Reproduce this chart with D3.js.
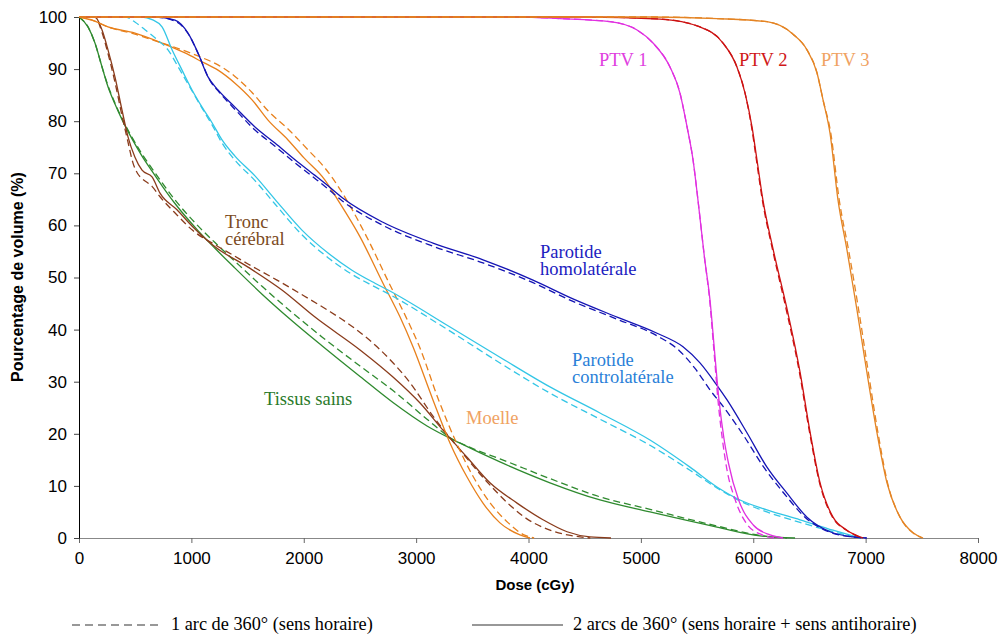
<!DOCTYPE html>
<html><head><meta charset="utf-8">
<script src="https://cdn.jsdelivr.net/npm/d3@7"></script>
<style>body{margin:0;background:#fff}svg{display:block}</style>
</head><body><svg id="c" width="1002" height="634"></svg>
<script>
// ---- data: [dose cGy, volume %] ----
const xTicks = [0,1000,2000,3000,4000,5000,6000,7000,8000];
const yTicks = [0,10,20,30,40,50,60,70,80,90,100];

const ptv1Solid = [[0,100],[3900,100],[4280,99.7],[4725,99.1],[4966,97.5],[5108,95],[5259,90.4],[5348,85.4],[5411,78.9],[5464,72.6],[5510,64.5],[5565,54],[5615,45.7],[5655,36],[5695,26.5],[5740,19],[5780,14.3],[5870,7.3],[6000,2.5],[6149,0.6],[6265,0]];
const ptv1Dash  = [[0,100],[3900,100],[4280,99.7],[4725,99.1],[4966,97.5],[5108,95],[5259,90.4],[5348,85.4],[5411,78.9],[5464,72.6],[5510,64.5],[5565,54],[5612,45.7],[5650,36],[5688,26],[5725,19],[5762,13.6],[5840,7.3],[5950,2.5],[6080,0.6],[6200,0]];
const ptv2Solid = [[0,100],[4500,100],[5170,99.6],[5526,98.1],[5731,95],[5855,90.4],[5927,85.4],[5989,78.9],[6033,72.6],[6085,65],[6176,55.5],[6300,44],[6416,31.9],[6505,20.4],[6594,10.6],[6710,4.0],[6834,1.5],[6977,0]];
const ptv2Dash  = [[0,100],[4500,100],[5170,99.6],[5526,98.1],[5731,95],[5855,90.4],[5927,85.4],[5985,78.9],[6028,72.6],[6080,65],[6170,55.5],[6292,44],[6410,31.9],[6500,20.4],[6590,10.6],[6705,4.0],[6830,1.5],[6970,0]];
const ptv3Solid = [[0,100],[5081,100],[5677,99.7],[6122,99.1],[6354,96.7],[6478,93.7],[6567,89.3],[6621,84.1],[6683,77.7],[6754,64.9],[6834,55.3],[6923,43.8],[7012,31.7],[7101,20.2],[7190,10.6],[7306,4.0],[7422,1.0],[7511,0]];
const ptv3Dash  = [[0,100],[5081,100],[5677,99.7],[6122,99.1],[6354,96.7],[6478,93.7],[6567,89.3],[6621,84.1],[6690,77.7],[6765,64.9],[6848,55.3],[6938,43.8],[7025,31.7],[7110,20.2],[7195,10.6],[7306,4.0],[7420,1.0],[7505,0]];

const homoSolid = [[0,100],[676,100],[854,99.4],[970,96.9],[1059,93.1],[1148,88.5],[1237,86],[1388,82.7],[1566,78.9],[1744,75.8],[1922,72.6],[2100,69.6],[2216,67.6],[2349,65.2],[2705,60.6],[3150,56.6],[3595,53.4],[4040,49.5],[4396,45.9],[4788,42.4],[5144,39.3],[5375,36.7],[5526,33.6],[5677,29.3],[5767,26.5],[5944,20.2],[6122,13.6],[6300,8.6],[6478,4.0],[6683,1.2],[6888,0.2],[7012,0]];
const homoDash  = [[0,100],[676,100],[854,99.2],[980,96.5],[1070,92.5],[1160,88],[1250,85.5],[1400,82],[1566,78.3],[1744,75.2],[1922,72],[2100,69],[2216,67],[2349,64.6],[2705,60],[3150,56],[3595,52.8],[4040,49],[4396,45.4],[4788,42],[5144,38.8],[5340,36],[5480,32.6],[5630,28],[5730,25.3],[5910,19.8],[6100,13.4],[6280,8.4],[6460,4.0],[6670,1.2],[6880,0.2],[7000,0]];

const controSolid = [[0,100],[561,100],[650,99.5],[739,98.1],[828,93.7],[917,89.8],[1006,86],[1095,82.7],[1184,79.7],[1273,76.4],[1388,73.3],[1566,69.5],[1744,65],[1984,59.1],[2216,54.7],[2429,51.4],[2634,48.9],[2750,47.6],[3302,40.5],[3746,34.7],[4191,29],[4636,24],[5081,18.8],[5437,13.6],[5677,9.8],[5882,7.3],[6122,5.4],[6416,3.5],[6710,1.5],[6950,0]];
const controDash  = [[0,100],[410,100],[500,99],[590,97.5],[703,95.5],[792,93.7],[880,90.5],[1006,85.8],[1095,82.5],[1184,79.3],[1273,75.8],[1388,72.5],[1566,68.6],[1744,64.1],[1984,58.2],[2216,53.8],[2429,50.6],[2634,48.2],[2750,46.9],[3302,39.7],[3746,33.6],[4191,27.8],[4636,22.8],[5081,17.8],[5437,13],[5677,9.6],[5882,7.1],[6122,5],[6416,3.0],[6710,1.2],[6950,0]];

const moelleSolid = [[0,100],[116,99.4],[258,98.1],[498,96.9],[739,95],[943,93.1],[1095,91.4],[1237,89.8],[1388,87.3],[1540,84.1],[1682,80.2],[1860,76.4],[2000,73],[2189,68.7],[2300,65],[2501,57.8],[2705,48.9],[2857,42.4],[2972,36.7],[3150,26.5],[3302,18.2],[3453,11.7],[3595,6.7],[3746,2.9],[3924,0.6],[4013,0]];
const moelleDash  = [[0,100],[116,99.4],[258,98.1],[498,96.7],[739,95],[943,93.5],[1095,92.2],[1237,90.8],[1388,88.6],[1540,85.5],[1682,82],[1860,78.5],[2038,74.5],[2189,71],[2350,66],[2560,57.8],[2760,48.9],[2910,42.4],[3030,36.7],[3200,26.5],[3360,18.2],[3510,11.7],[3660,6.7],[3820,2.9],[3960,0.6],[4050,0]];

const troncSolid = [[0,100],[142,100],[205,97.5],[258,93.7],[320,88.5],[383,82.1],[436,77],[498,73.1],[561,70.6],[650,69.3],[721,66.2],[872,63],[1014,59.7],[1210,55.9],[1504,52],[1806,47.6],[2100,42.4],[2501,36.1],[2794,30.9],[3035,25.9],[3239,20.7],[3453,15.5],[3657,10.6],[3898,6.7],[4129,3.5],[4343,1.2],[4547,0.2],[4734,0]];
const troncDash  = [[0,100],[142,100],[205,97],[258,93],[320,87.5],[383,81],[436,76],[480,72],[520,70],[560,69],[650,67.5],[721,65.5],[872,62],[1014,59],[1210,56.3],[1370,54.3],[1504,52.6],[1762,49.5],[2000,46.5],[2207,43.8],[2450,40.3],[2652,36.7],[2800,33.5],[2946,29.8],[3150,23.4],[3390,16.9],[3630,10.8],[3835,6.3],[3951,4.2],[4191,1.5],[4431,0.3],[4550,0]];

const tissusSolid = [[0,100],[80,98.1],[142,95],[205,90.4],[258,86.6],[320,83.3],[383,80.3],[472,76.6],[561,73.3],[650,70.4],[739,67.6],[854,64.2],[1059,59],[1210,55.6],[1388,51.8],[1629,46.8],[1895,41.7],[2162,36.9],[2501,31],[2794,26],[3097,21.5],[3391,18.2],[3746,14.6],[4191,10.6],[4636,7.3],[5081,5.0],[5677,2.1],[6060,0.4],[6372,0]];
const tissusDash  = [[0,100],[80,98.1],[142,95],[205,90.4],[258,86.8],[320,83.5],[383,80.5],[472,76.9],[561,73.7],[650,70.9],[739,68.2],[854,64.9],[1059,59.9],[1210,56.7],[1388,53.1],[1629,48.3],[1895,43.3],[2162,38.6],[2501,33],[2794,28.3],[3097,22.8],[3300,19.3],[3500,17.2],[3746,15.2],[4191,11.4],[4636,7.9],[5081,5.5],[5677,2.3],[6060,0.5],[6300,0]];

const series = [
  {name:"tissus", color:"#2f8a2f", solid:tissusSolid, dash:tissusDash},
  {name:"tronc", color:"#8a3c1c", solid:troncSolid, dash:troncDash},
  {name:"moelle", color:"#e8801c", solid:moelleSolid, dash:moelleDash},
  {name:"contro", color:"#33c6e6", solid:controSolid, dash:controDash},
  {name:"homo", color:"#1414b4", solid:homoSolid, dash:homoDash},
  {name:"ptv1", color:"#e030e0", solid:ptv1Solid, dash:ptv1Dash},
  {name:"ptv2", color:"#cc1212", solid:ptv2Solid, dash:ptv2Dash},
  {name:"ptv3", color:"#e48424", solid:ptv3Solid, dash:ptv3Dash}
];

const labels = [
  {lines:["PTV 1"], x:599, y:66, color:"#e040e0"},
  {lines:["PTV 2"], x:739, y:66, color:"#d01818"},
  {lines:["PTV 3"], x:821, y:66, color:"#f0a262"},
  {lines:["Parotide","homolatérale"], x:540, y:258, color:"#2020c0"},
  {lines:["Parotide","controlatérale"], x:572, y:366, color:"#2a7fd8"},
  {lines:["Moelle"], x:466, y:424, color:"#f0a262"},
  {lines:["Tissus sains"], x:264, y:405, color:"#2a7a2a"},
  {lines:["Tronc","cérébral"], x:225, y:228, color:"#7b4a22"}
];
const legendItems = [
  {text:"1 arc de 360° (sens horaire)", dashed:true, x1:72, x2:160, tx:171},
  {text:"2 arcs de 360° (sens horaire + sens antihoraire)", dashed:false, x1:472, x2:563, tx:573}
];

const svg = d3.select("#c");
const x = d3.scaleLinear().domain([0,8000]).range([79,978]);
const y = d3.scaleLinear().domain([0,100]).range([538,17]);

// axes
const gx = svg.append("g").attr("transform","translate(0,538)")
  .call(d3.axisBottom(x).tickValues(xTicks).tickSize(5).tickSizeOuter(0).tickFormat(d3.format("d")));
gx.select(".domain").attr("stroke","#888");
gx.selectAll(".tick line").attr("stroke","#666");
gx.selectAll(".tick text").attr("font-family","Liberation Sans, Arial, sans-serif").attr("font-size",17).attr("fill","#000").attr("dy","1.05em");

const gy = svg.append("g").attr("transform","translate(79,0)")
  .call(d3.axisLeft(y).tickValues(yTicks).tickSize(5).tickSizeOuter(0));
gy.select(".domain").attr("stroke","#000");
gy.selectAll(".tick line").attr("stroke","#444");
gy.selectAll(".tick text").attr("font-family","Liberation Sans, Arial, sans-serif").attr("font-size",17).attr("fill","#000").attr("x",-12);

svg.append("text").attr("x",535).attr("y",590).attr("text-anchor","middle")
  .attr("font-family","Liberation Sans, Arial, sans-serif").attr("font-weight","bold").attr("font-size",15)
  .text("Dose (cGy)");
svg.append("text").attr("transform","translate(23,277) rotate(-90)").attr("text-anchor","middle")
  .attr("font-family","Liberation Sans, Arial, sans-serif").attr("font-weight","bold").attr("font-size",16)
  .text("Pourcentage de volume (%)");

// curves
const line = d3.line().x(d=>x(d[0])).y(d=>y(d[1])).curve(d3.curveMonotoneX);
const gc = svg.append("g");
series.forEach(s=>{
  gc.append("path").attr("d",line(s.dash)).attr("fill","none").attr("stroke",s.color)
    .attr("stroke-width",1.3).attr("stroke-dasharray","7,4");
  gc.append("path").attr("d",line(s.solid)).attr("fill","none").attr("stroke",s.color)
    .attr("stroke-width",1.3);
});

// labels
labels.forEach(l=>{
  const t = svg.append("text").attr("font-family","Liberation Serif, Times New Roman, serif")
    .attr("font-size",18.5).attr("fill",l.color);
  l.lines.forEach((ln,i)=>t.append("tspan").attr("x",l.x).attr("y",l.y+i*17).text(ln));
});

// legend
legendItems.forEach(it=>{
  svg.append("line").attr("x1",it.x1).attr("x2",it.x2).attr("y1",625).attr("y2",625)
    .attr("stroke","#333").attr("stroke-width",1.2).attr("stroke-dasharray",it.dashed?"8,5":null);
  svg.append("text").attr("x",it.tx).attr("y",630).attr("font-family","Liberation Serif, Times New Roman, serif")
    .attr("font-size",18.3).attr("fill","#000").text(it.text);
});
</script></body></html>
